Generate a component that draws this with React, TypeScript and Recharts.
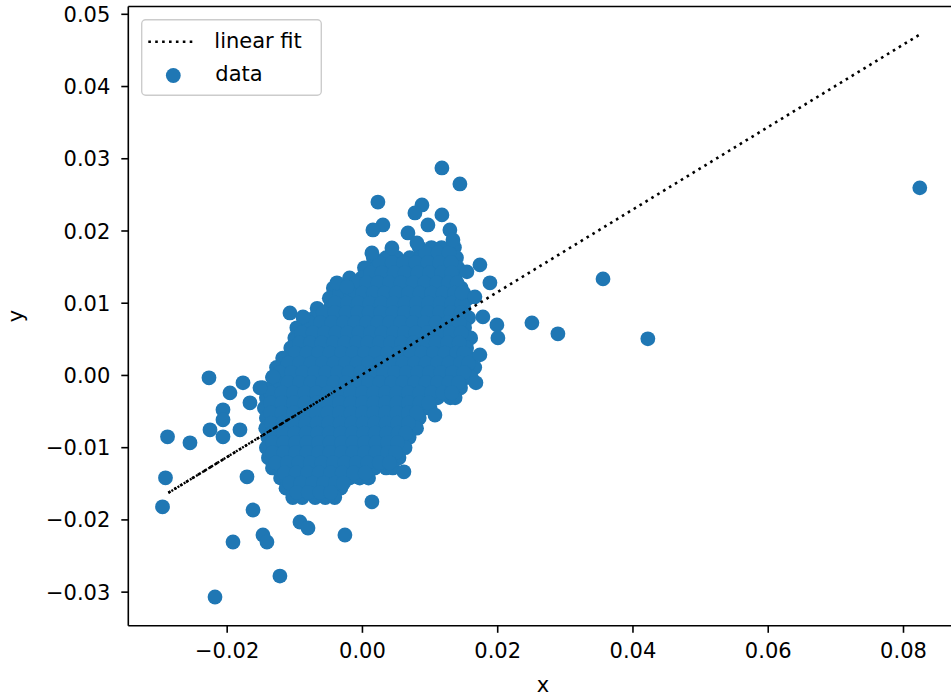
import React from 'react';
import { ScatterChart, Scatter, XAxis, YAxis, ReferenceLine, Legend } from 'recharts';

const FONT = '"DejaVu Sans", "Liberation Sans", sans-serif';
const BLUE = '#1f77b4';

const xDomain = [-0.03462, 0.088];
const yDomain = [-0.03466, 0.05108];
const xTicks = [-0.02, 0, 0.02, 0.04, 0.06, 0.08];
const yTicks = [-0.03, -0.02, -0.01, 0, 0.01, 0.02, 0.03, 0.04, 0.05];

const seriesNames = ['linear fit', 'data'];

// linear fit end points
const fitX = [-0.0287, 0.0823];
const fitY = [-0.01625, 0.04714];
// left part of the fit where the dots are packed tighter
const fitDenseX = [-0.0287, -0.0045];
const fitDenseY = [-0.01625, -0.00243];

// dense core of the cloud, read row by row (row y, x positions)
const blobRowY = [
  0.0177, 0.0163, 0.0149, 0.0135, 0.0121, 0.0107, 0.0093, 0.008, 0.0066, 0.0052, 0.0038, 0.0024, 0.0011,
  -0.0003, -0.0017, -0.0031, -0.0045, -0.0059, -0.0073, -0.0086, -0.01, -0.0114, -0.0128, -0.0142, -0.0156, -0.0169,
];
const blobRowX = [
  [0.0084, 0.0102, 0.0117, 0.0136],
  [0.0016, 0.0035, 0.0051, 0.007, 0.0086, 0.0105, 0.0121, 0.0139],
  [0.0003, 0.0022, 0.0037, 0.0057, 0.0072, 0.0092, 0.0107, 0.0127, 0.0141],
  [-0.0019, -0.0001, 0.0013, 0.0032, 0.0047, 0.0067, 0.0082, 0.0102, 0.0118, 0.0137],
  [-0.0043, -0.0025, -0.001, 0.0009, 0.0024, 0.0044, 0.0059, 0.0079, 0.0094, 0.0114, 0.0129, 0.0146],
  [-0.0049, -0.003, -0.0015, 0.0004, 0.0019, 0.0039, 0.0054, 0.0074, 0.0089, 0.0109, 0.0124, 0.0141, 0.0156],
  [-0.0067, -0.0048, -0.0033, -0.0014, 0.0001, 0.002, 0.0036, 0.0055, 0.0071, 0.009, 0.0105, 0.0124, 0.0139, 0.015],
  [-0.0087, -0.0071, -0.0054, -0.0039, -0.002, -0.0005, 0.0014, 0.0029, 0.0048, 0.0063, 0.0082, 0.0097, 0.0116, 0.0131, 0.015, 0.0157],
  [-0.0097, -0.0082, -0.0063, -0.0048, -0.0029, -0.0014, 0.0005, 0.002, 0.0039, 0.0054, 0.0073, 0.0088, 0.0107, 0.0122, 0.0141, 0.0151],
  [-0.01, -0.0085, -0.0066, -0.0051, -0.0032, -0.0017, 0.0002, 0.0017, 0.0036, 0.0051, 0.007, 0.0085, 0.0104, 0.0119, 0.0138, 0.0153, 0.016],
  [-0.0106, -0.0091, -0.0072, -0.0057, -0.0038, -0.0023, -0.0004, 0.0011, 0.003, 0.0045, 0.0064, 0.0079, 0.0098, 0.0113, 0.0132, 0.0147, 0.0154],
  [-0.0118, -0.0103, -0.0084, -0.0069, -0.005, -0.0035, -0.0016, -0.0001, 0.0018, 0.0033, 0.0052, 0.0067, 0.0086, 0.0101, 0.012, 0.0135, 0.0154, 0.0158],
  [-0.0127, -0.0112, -0.0093, -0.0078, -0.0059, -0.0044, -0.0025, -0.001, 0.0009, 0.0024, 0.0043, 0.0058, 0.0077, 0.0092, 0.0111, 0.0126, 0.0145, 0.016, 0.0166],
  [-0.0133, -0.0118, -0.0099, -0.0084, -0.0065, -0.005, -0.0031, -0.0016, 0.0003, 0.0018, 0.0037, 0.0052, 0.0071, 0.0086, 0.0105, 0.012, 0.0139, 0.0154, 0.0161],
  [-0.0148, -0.0133, -0.0114, -0.0099, -0.008, -0.0065, -0.0046, -0.0031, -0.0012, 0.0003, 0.0022, 0.0037, 0.0056, 0.0071, 0.009, 0.0105, 0.0124, 0.0139, 0.0145],
  [-0.0142, -0.0127, -0.0108, -0.0093, -0.0074, -0.0059, -0.004, -0.0025, -0.0006, 0.0009, 0.0028, 0.0043, 0.0062, 0.0077, 0.0096, 0.0111, 0.013, 0.0137],
  [-0.0145, -0.013, -0.0111, -0.0096, -0.0077, -0.0062, -0.0043, -0.0028, -0.0009, 0.0006, 0.0025, 0.004, 0.0059, 0.0074, 0.0093, 0.01],
  [-0.0142, -0.0127, -0.0108, -0.0093, -0.0074, -0.0059, -0.004, -0.0025, -0.0006, 0.0009, 0.0028, 0.0043, 0.0062, 0.0077, 0.0084],
  [-0.0143, -0.0128, -0.0109, -0.0094, -0.0075, -0.006, -0.0041, -0.0026, -0.0007, 0.0008, 0.0027, 0.0042, 0.0061, 0.0074, 0.008],
  [-0.014, -0.0125, -0.0106, -0.0091, -0.0072, -0.0057, -0.0038, -0.0023, -0.0004, 0.0011, 0.003, 0.0045, 0.0062, 0.0069],
  [-0.0142, -0.0127, -0.0108, -0.0093, -0.0074, -0.0059, -0.004, -0.0025, -0.0006, 0.0009, 0.0028, 0.0043, 0.0057, 0.0063],
  [-0.0139, -0.0124, -0.0105, -0.009, -0.0071, -0.0056, -0.0037, -0.0022, -0.0003, 0.0012, 0.0031, 0.0046, 0.0054],
  [-0.0133, -0.0118, -0.0099, -0.0084, -0.0065, -0.005, -0.0031, -0.0016, 0.0003, 0.0018, 0.0035, 0.0045],
  [-0.0121, -0.0106, -0.0087, -0.0072, -0.0053, -0.0038, -0.0019, -0.0004, 0.0009],
  [-0.0113, -0.0098, -0.0079, -0.0064, -0.0045, -0.0032],
  [-0.0103, -0.0089, -0.007, -0.0055, -0.0041],
];

// inner points lying between the rows above
const innerRowY = [
  0.017, 0.0156, 0.0142, 0.0128, 0.0114, 0.01, 0.0087, 0.0073, 0.0059, 0.0045, 0.0031, 0.0017, 0.0004,
  -0.001, -0.0024, -0.0038, -0.0052, -0.0066, -0.008, -0.0093, -0.0107, -0.0121, -0.0135, -0.0149, -0.0162,
];
const innerRowX = [
  [0.0093, 0.0112, 0.0128],
  [0.0025, 0.0044, 0.0061, 0.0079, 0.0097, 0.0114, 0.0131],
  [0.0012, 0.0029, 0.0047, 0.0063, 0.0082, 0.0099, 0.0117, 0.0132],
  [-0.001, 0.0006, 0.0023, 0.004, 0.0057, 0.0075, 0.0092, 0.011, 0.0127, 0.014],
  [-0.0034, -0.0018, 0.0, 0.0016, 0.0033, 0.005, 0.0068, 0.0085, 0.0102, 0.0119, 0.0136, 0.015],
  [-0.004, -0.0022, -0.0006, 0.0011, 0.0028, 0.0046, 0.0063, 0.008, 0.0098, 0.0115, 0.0132, 0.0147],
  [-0.0058, -0.0041, -0.0024, -0.0007, 0.001, 0.0027, 0.0045, 0.0062, 0.008, 0.0097, 0.0114, 0.0131, 0.0146],
  [-0.0079, -0.0062, -0.0045, -0.0028, -0.0011, 0.0006, 0.0023, 0.004, 0.0057, 0.0075, 0.0092, 0.0109, 0.0126, 0.0143],
  [-0.009, -0.0073, -0.0056, -0.0039, -0.0022, -0.0005, 0.0012, 0.0029, 0.0046, 0.0062, 0.0079, 0.0096, 0.0113, 0.013, 0.0146],
  [-0.0093, -0.0077, -0.006, -0.0043, -0.0026, -0.0009, 0.0008, 0.0025, 0.0042, 0.0058, 0.0075, 0.0092, 0.0109, 0.0126, 0.0143],
  [-0.0099, -0.0082, -0.0065, -0.0048, -0.0031, -0.0014, 0.0003, 0.002, 0.0037, 0.0054, 0.0071, 0.0088, 0.0105, 0.0122, 0.0139, 0.015],
  [-0.011, -0.0093, -0.0076, -0.0059, -0.0042, -0.0025, -0.0008, 0.0009, 0.0026, 0.0043, 0.006, 0.0077, 0.0094, 0.0111, 0.0128, 0.0145, 0.0157],
  [-0.0122, -0.0105, -0.0088, -0.0071, -0.0054, -0.0037, -0.002, -0.0003, 0.0014, 0.0031, 0.0048, 0.0065, 0.0082, 0.0099, 0.0116, 0.0133, 0.015],
  [-0.0127, -0.011, -0.0093, -0.0076, -0.0059, -0.0042, -0.0025, -0.0008, 0.0009, 0.0026, 0.0043, 0.006, 0.0077, 0.0094, 0.0111, 0.0128, 0.0142],
  [-0.0136, -0.0119, -0.0102, -0.0085, -0.0068, -0.0051, -0.0034, -0.0017, 0.0, 0.0017, 0.0034, 0.0051, 0.0068, 0.0085, 0.0102, 0.0119, 0.0132],
  [-0.0136, -0.0119, -0.0102, -0.0085, -0.0068, -0.0051, -0.0034, -0.0017, 0.0, 0.0017, 0.0034, 0.0051, 0.0068, 0.0085, 0.0098],
  [-0.0136, -0.0119, -0.0102, -0.0085, -0.0068, -0.0051, -0.0034, -0.0017, 0.0, 0.0017, 0.0034, 0.0051, 0.0068, 0.008],
  [-0.0135, -0.0118, -0.0101, -0.0084, -0.0067, -0.005, -0.0033, -0.0016, 0.0001, 0.0018, 0.0035, 0.0052, 0.0068],
  [-0.0134, -0.0117, -0.01, -0.0083, -0.0066, -0.0049, -0.0032, -0.0015, 0.0002, 0.0019, 0.0036, 0.0053, 0.0064],
  [-0.0133, -0.0116, -0.0099, -0.0082, -0.0065, -0.0048, -0.0031, -0.0014, 0.0003, 0.002, 0.0037, 0.0052],
  [-0.0133, -0.0116, -0.0099, -0.0082, -0.0065, -0.0048, -0.0031, -0.0014, 0.0003, 0.002, 0.0037, 0.0049],
  [-0.0128, -0.0111, -0.0094, -0.0077, -0.006, -0.0043, -0.0026, -0.0009, 0.0008, 0.0025, 0.004],
  [-0.0115, -0.0098, -0.0081, -0.0064, -0.0047, -0.003, -0.0013, 0.0004],
  [-0.0108, -0.0091, -0.0074, -0.0057, -0.004, -0.0028],
  [-0.0097, -0.008, -0.0063, -0.0047],
];

// scattered points around the core
const looseX = [
  0.01175, 0.01441, 0.08241, 0.03557, 0.02506, 0.0289, 0.0422, 0.01737, 0.01545, 0.01885, 0.01781, 0.01988,
  0.02003, 0.01471, 0.01663, 0.00229, 0.0088, 0.00776, 0.01175, 0.00968, 0.00303, 0.00155, 0.00673, 0.01293,
  0.01338, 0.00806, 0.00436, 0.0014, 0.01737, 0.01678, -0.02269, -0.01766, -0.01959, -0.01663, -0.02062,
  -0.02062, -0.02254, -0.02062, -0.01811, -0.01515, -0.01323, -0.02882, -0.0255, -0.02912, -0.02956, -0.01707,
  -0.01618, -0.01914, -0.01471, -0.01412, -0.0122, -0.0218, -0.00259, -0.00924, -0.00805, 0.0014, 0.00613,
  0.01072, -0.01072, -0.0088, -0.00377, -0.00229,
];
const looseY = [
  0.02873, 0.02652, 0.02597, 0.01337, 0.00728, 0.00576, 0.00507, 0.01531, 0.01434, 0.01282, 0.00811, 0.007,
  0.0052, 0.01143, 0.01088, 0.02401, 0.02361, 0.0225, 0.02223, 0.02084, 0.02084, 0.02015, 0.01973, 0.02015,
  0.01876, 0.01835, 0.01766, 0.01697, 0.00285, -0.00102, -0.00033, -0.00102, -0.00241, -0.00379, -0.00476,
  -0.00614, -0.00753, -0.0085, -0.00753, -0.00172, -0.00019, -0.0085, -0.00933, -0.01417, -0.01819, -0.01403,
  -0.01863, -0.02306, -0.02209, -0.02306, -0.02777, -0.03067, -0.02209, -0.02029, -0.02112, -0.01749, -0.01334,
  -0.00548, 0.00866, 0.00811, 0.01282, 0.01226,
];

const scatterData: { x: number; y: number }[] = [];
blobRowY.forEach((yv, i) => blobRowX[i].forEach((xv) => scatterData.push({ x: xv, y: yv })));
innerRowY.forEach((yv, i) => innerRowX[i].forEach((xv) => scatterData.push({ x: xv, y: yv })));
looseX.forEach((xv, i) => scatterData.push({ x: xv, y: looseY[i] }));

const fitData = fitX.map((xv, i) => ({ x: xv, y: fitY[i] }));
const fitDenseData = fitDenseX.map((xv, i) => ({ x: xv, y: fitDenseY[i] }));

const fmt = (v: number) => (Math.abs(v) < 1e-12 ? 0 : v).toFixed(2).replace('-', '\u2212');

const XTick = (p: any) => (
  <text x={p.x} y={p.y} dy="0.71em" textAnchor="middle" fontSize={21} fill="#000" fontFamily={FONT}>
    {fmt(p.payload.value)}
  </text>
);
const YTick = (p: any) => (
  <text x={p.x} y={p.y} dy="0.36em" textAnchor="end" fontSize={21} fill="#000" fontFamily={FONT}>
    {fmt(p.payload.value)}
  </text>
);

const XLabel = (p: any) => {
  const vb = p.viewBox || { x: 128, width: 830 };
  return (
    <text x={vb.x + vb.width / 2} y={692} textAnchor="middle" fontSize={21} fill="#000" fontFamily={FONT}>
      x
    </text>
  );
};
const YLabel = (p: any) => {
  const vb = p.viewBox || { y: 6, height: 620 };
  const cy = vb.y + vb.height / 2;
  return (
    <text x={23} y={cy} textAnchor="middle" fontSize={21} fill="#000" fontFamily={FONT} transform={`rotate(-90, 23, ${cy})`}>
      y
    </text>
  );
};

const Dot = (p: any) => <circle cx={p.cx} cy={p.cy} r={7.4} fill={BLUE} />;
const NoDot = () => <g />;

const LegendBox = () => (
  <svg width={182} height={78} style={{ display: 'block' }}>
    <rect x={0.7} y={0.7} width={179.6} height={75.6} rx={4} ry={4} fill="#fff" fillOpacity={0.8} stroke="#cccccc" strokeWidth={1.4} />
    <line x1={7.3} y1={22.7} x2={52.3} y2={22.7} stroke="#000" strokeWidth={2.6} strokeDasharray="2.6 4.3" />
    <text x={73.3} y={29.3} fontSize={21} fill="#000" fontFamily={FONT}>{seriesNames[0]}</text>
    <circle cx={32.3} cy={56.5} r={7.4} fill={BLUE} />
    <text x={74.3} y={62} fontSize={21} fill="#000" fontFamily={FONT}>{seriesNames[1]}</text>
  </svg>
);

export default function App() {
  return (
    <div style={{ position: 'fixed', left: 0, top: 0, width: 951, height: 696, overflow: 'hidden', background: '#fff' }}>
      <ScatterChart width={960} height={696} margin={{ top: 6.5, right: 2.4, bottom: 10.2, left: 0 }}>
        <XAxis
          type="number"
          dataKey="x"
          domain={xDomain}
          allowDataOverflow
          ticks={xTicks}
          interval={0}
          height={60}
          tick={<XTick />}
          tickSize={7}
          tickMargin={10}
          axisLine={{ stroke: '#000', strokeWidth: 1.6 }}
          tickLine={{ stroke: '#000', strokeWidth: 1.6 }}
          label={<XLabel />}
        />
        <YAxis
          type="number"
          dataKey="y"
          domain={yDomain}
          allowDataOverflow
          ticks={yTicks}
          interval={0}
          width={128.3}
          tick={<YTick />}
          tickSize={7}
          tickMargin={11}
          axisLine={{ stroke: '#000', strokeWidth: 1.6 }}
          tickLine={{ stroke: '#000', strokeWidth: 1.6 }}
          label={<YLabel />}
        />
        <ReferenceLine y={yDomain[1]} stroke="#000" strokeWidth={1.6} ifOverflow="visible" />
        <ReferenceLine x={xDomain[1]} stroke="#000" strokeWidth={1.6} ifOverflow="visible" />
        <Scatter name={seriesNames[1]} data={scatterData} fill={BLUE} shape={<Dot />} isAnimationActive={false} />
        <Scatter
          name={seriesNames[0]}
          data={fitData}
          fill="#000"
          shape={<NoDot />}
          line={{ stroke: '#000', strokeWidth: 2.6, strokeDasharray: '2.6 4.3' }}
          lineType="joint"
          isAnimationActive={false}
        />
        <Scatter
          name="fit-dense"
          data={fitDenseData}
          fill="#000"
          shape={<NoDot />}
          line={{ stroke: '#000', strokeWidth: 2.4, strokeDasharray: '2 1.6' }}
          lineType="joint"
          legendType="none"
          isAnimationActive={false}
        />
        <Legend
          layout="horizontal"
          verticalAlign="middle"
          align="center"
          content={<LegendBox />}
          wrapperStyle={{ position: 'absolute', left: 140.7, top: 19, width: 182, height: 78 }}
        />
      </ScatterChart>
    </div>
  );
}
